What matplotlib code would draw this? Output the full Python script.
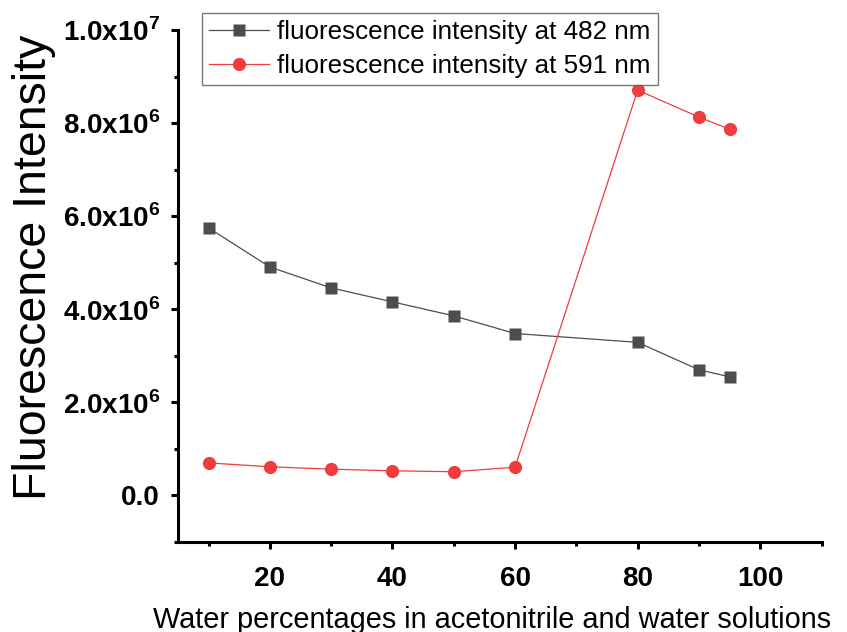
import matplotlib
matplotlib.use('Agg')
import matplotlib.pyplot as plt

plt.rcParams['font.family'] = ['Liberation Sans', 'DejaVu Sans']
plt.rcParams['mathtext.fontset'] = 'custom'
plt.rcParams['mathtext.rm'] = 'Liberation Sans'
plt.rcParams['mathtext.bf'] = 'Liberation Sans:bold'

water = [10, 20, 30, 40, 50, 60, 80, 90, 95]
int_482 = [5.75e6, 4.91e6, 4.46e6, 4.16e6, 3.86e6, 3.48e6, 3.29e6, 2.70e6, 2.55e6]
int_591 = [0.70e6, 0.616e6, 0.565e6, 0.53e6, 0.51e6, 0.607e6, 8.71e6, 8.13e6, 7.87e6]

x_ticks = [20, 40, 60, 80, 100]
y_ticks = [0, 2e6, 4e6, 6e6, 8e6, 1e7]
y_ticklabels = ['0.0', r'2.0x10$^{\mathbf{6}}$', r'4.0x10$^{\mathbf{6}}$',
                r'6.0x10$^{\mathbf{6}}$', r'8.0x10$^{\mathbf{6}}$', r'1.0x10$^{\mathbf{7}}$']

fig = plt.figure(figsize=(8.47, 6.32), dpi=100)
ax = fig.add_axes([0.210, 0.1424, 0.760, 0.810])

ax.plot(water, int_482, color='#4d4d4d', lw=0.9, marker='s', ms=8, mec='none',
        label='fluorescence intensity at 482 nm')
ax.plot(water, int_591, color='#f03c3c', lw=0.9, marker='o', ms=9.5, mec='none',
        label='fluorescence intensity at 591 nm')

ax.set_xlim(5, 110)
ax.set_ylim(-1e6, 1e7)
ax.set_xticks(x_ticks)
ax.set_xticks([10, 30, 50, 70, 90, 110], minor=True)
ax.set_yticks(y_ticks)
ax.set_yticklabels(y_ticklabels)
ax.set_yticks([-1e6, 1e6, 3e6, 5e6, 7e6, 9e6], minor=True)

for s in ['top', 'right']:
    ax.spines[s].set_visible(False)
for s in ['left', 'bottom']:
    ax.spines[s].set_linewidth(2.2)

ax.tick_params(which='major', direction='out', length=5, width=2.2, labelsize=20)
ax.tick_params(axis='x', which='major', pad=12)
ax.tick_params(axis='y', which='major', pad=8)
ax.tick_params(which='minor', direction='out', length=3, width=2.2)
for lab in ax.get_xticklabels() + ax.get_yticklabels():
    lab.set_fontweight('bold')

ax.set_xlabel('Water percentages in acetonitrile and water solutions', fontsize=20.8, labelpad=10)
ax.xaxis.label.set_x(0.4876)
ax.set_ylabel('Fluorescence Intensity', fontsize=33.5, labelpad=5)
ax.yaxis.label.set_y(0.537)

leg = ax.legend(loc='upper left', bbox_to_anchor=(202 / 847, 1 - 13 / 632),
                bbox_transform=fig.transFigure, fontsize=18.7, frameon=True,
                fancybox=False, edgecolor='#555555', handlelength=2.3,
                borderpad=0.28, labelspacing=0.36, handletextpad=0.3,
                borderaxespad=0)
leg.get_frame().set_linewidth(1.0)

fig.savefig('out.png', dpi=100)
